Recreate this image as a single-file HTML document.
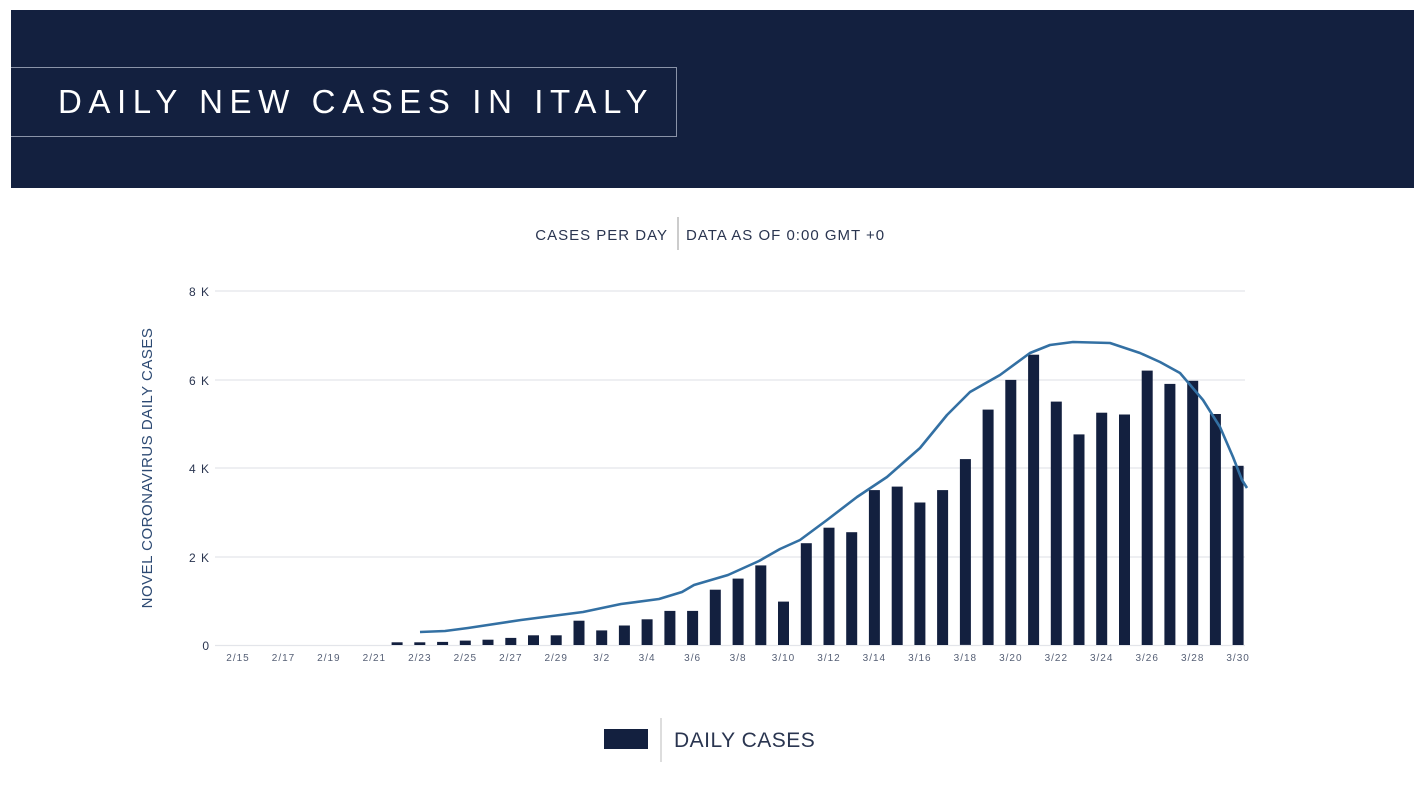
<!DOCTYPE html>
<html><head><meta charset="utf-8"><style>
body{margin:0;width:1414px;height:795px;background:#fff;position:relative;overflow:hidden;font-family:"Liberation Sans",sans-serif}
.hdr{position:absolute;left:11px;top:10px;width:1403px;height:178px;background:#13203f}
.tb{position:absolute;left:11px;top:67px;width:665px;height:68px;border:1px solid #8a93a8;border-left:none}
.tt{position:absolute;left:58px;top:83px;color:#fff;font-size:33px;letter-spacing:6.6px;white-space:nowrap}
</style></head><body>
<div class="hdr"></div><div class="tb"></div><div class="tt">DAILY NEW CASES IN ITALY</div>
<svg width="1414" height="795" style="position:absolute;left:0;top:0" font-family="Liberation Sans, sans-serif">
<text x="668" y="240" text-anchor="end" font-size="15" fill="#2a3550" letter-spacing="1">CASES PER DAY</text>
<line x1="678" y1="217" x2="678" y2="250" stroke="#999" stroke-width="1"/>
<text x="686" y="240" font-size="15" fill="#2a3550" letter-spacing="1">DATA AS OF 0:00 GMT +0</text>
<g stroke="#e3e5ea" stroke-width="1.3">
<line x1="215" y1="291" x2="1245" y2="291"/><line x1="215" y1="380" x2="1245" y2="380"/>
<line x1="215" y1="468" x2="1245" y2="468"/><line x1="215" y1="557" x2="1245" y2="557"/>
<line x1="215" y1="645.5" x2="1245" y2="645.5"/></g>
<g font-size="12" fill="#2a3550" text-anchor="end" letter-spacing="1">
<text x="210" y="296">8 K</text><text x="210" y="385">6 K</text><text x="210" y="473">4 K</text><text x="210" y="562">2 K</text><text x="210" y="650">0</text></g>
<text transform="translate(152,468) rotate(-90)" text-anchor="middle" font-size="15" fill="#2d4a73" letter-spacing="0.5">NOVEL CORONAVIRUS DAILY CASES</text>
<g id="bars" fill="#13203f"></g>
<g id="xl" font-size="10" fill="#555f75" text-anchor="middle" letter-spacing="1"></g>
<path id="ln" fill="none" stroke="#3370a3" stroke-width="2.6" stroke-linejoin="round"/>
<rect x="604" y="729" width="44" height="20" fill="#13203f"/>
<line x1="661" y1="718" x2="661" y2="762" stroke="#bbb"/>
<text x="674" y="747" font-size="21" fill="#2a3550" letter-spacing="0.5">DAILY CASES</text>
</svg>
<script>
var v=[0,0,0,0,0,0,0,62,62,70,100,120,160,220,220,550,330,440,580,770,770,1250,1500,1800,980,2300,2650,2550,3500,3580,3220,3500,4200,5320,5990,6560,5500,4760,5250,5210,6200,5900,5970,5220,4050];
var b='',l='';
var labs=['2/15','2/17','2/19','2/21','2/23','2/25','2/27','2/29','3/2','3/4','3/6','3/8','3/10','3/12','3/14','3/16','3/18','3/20','3/22','3/24','3/26','3/28','3/30'];
for(var i=0;i<45;i++){var x=238+i*22.73;if(v[i]>0){var h=v[i]*44.25/1000;b+='<rect x="'+(x-5.5).toFixed(1)+'" y="'+(645-h).toFixed(1)+'" width="11" height="'+h.toFixed(1)+'"/>';}
if(i%2==0)l+='<text x="'+x.toFixed(1)+'" y="661">'+labs[i/2]+'</text>';}
document.getElementById('bars').innerHTML=b;document.getElementById('xl').innerHTML=l;
var p=[[420,632],[445,631],[468,628],[521,620],[583,612],[621,604],[659,599],[682,592],[694,585],[728,575],[759,561],[780,549],[800,540],[827,520],[857,497],[887,477],[920,448],[947,415],[970,392],[1000,375],[1030,353],[1050,345],[1073,342],[1110,343],[1140,353],[1160,362],[1180,373],[1203,400],[1220,427],[1233,457],[1242,480],[1247,488]];
document.getElementById('ln').setAttribute('d','M'+p.map(function(q){return q.join(',')}).join(' L'));
</script>
</body></html>
